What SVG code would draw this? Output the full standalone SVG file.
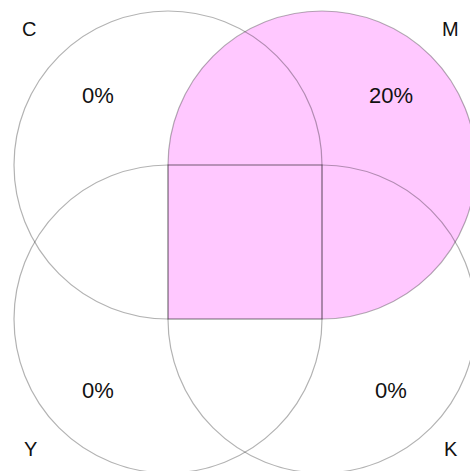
<svg xmlns="http://www.w3.org/2000/svg" width="470" height="471" viewBox="0 0 470 471">
<style>
.ring{fill:none;stroke:#000;stroke-opacity:0.3;stroke-width:1.2}
.lbl{font-family:"Liberation Sans",Arial,sans-serif;font-size:20px;fill:#111}
.pct{font-family:"Liberation Sans",Arial,sans-serif;font-size:22px;fill:#111;text-anchor:middle}
</style>
<rect width="470" height="471" fill="#fff"/>
<path id="m-fill" d="M168,165 A154,154 0 1 1 322,319 L168,319 Z" fill="#ffc8ff"/>
<g id="node-c">
<path class="ring" d="M322,165 A154,154 0 1 0 168,319 L322,319 Z"/>
<text class="lbl" x="22" y="36">C</text>
<text class="pct" x="98" y="103">0%</text>
</g>
<g id="node-m">
<path class="ring" d="M168,165 A154,154 0 1 1 322,319 L168,319 Z"/>
<text class="lbl" x="442" y="36">M</text>
<text class="pct" x="391" y="103">20%</text>
</g>
<g id="node-y">
<path class="ring" d="M322,319 A154,154 0 1 1 168,165 L322,165 Z"/>
<text class="lbl" x="24" y="456">Y</text>
<text class="pct" x="98" y="398">0%</text>
</g>
<g id="node-k">
<path class="ring" d="M322,165 A154,154 0 1 1 168,319 L168,165 Z"/>
<text class="lbl" x="444" y="456">K</text>
<text class="pct" x="391" y="398">0%</text>
</g>
<g id="connectors"></g>
</svg>
